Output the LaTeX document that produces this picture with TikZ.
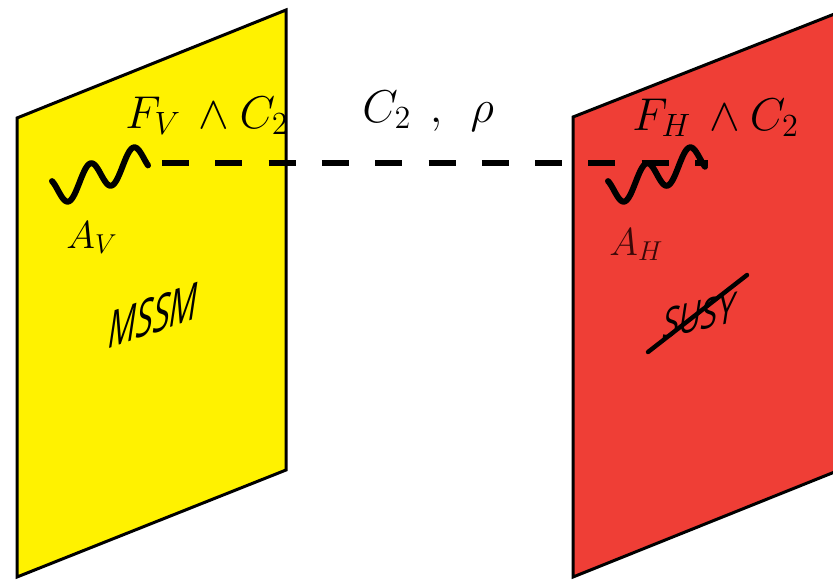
\RequirePackage{fix-cm}
\documentclass[tikz,border=0pt]{standalone}
\usepackage{fontspec}
\newfontfamily\labelsans{Open Sans}
\definecolor{braneY}{RGB}{255,242,0}
\definecolor{braneR}{RGB}{239,62,54}
\definecolor{darkA}{RGB}{60,8,8}
\tikzset{
  brane/.style={draw=black, line width=1.5pt, line join=miter},
  wiggle/.style={draw=black, line width=3pt, line cap=round},
  dashline/.style={draw=black, line width=3pt, dash pattern=on 13.5pt off 13.15pt},
  biglabel/.style={inner sep=0pt, font=\fontsize{23}{27}\selectfont},
  smalllabel/.style={inner sep=0pt, font=\fontsize{19.5}{23}\selectfont},
  branetext/.style={inner sep=0pt, anchor=base, transform shape},
  strike/.style={draw=black, line width=2.2pt, line cap=round}
}
\begin{document}
\begin{tikzpicture}[x=0.5pt,y=-0.5pt]
\useasboundingbox (0,0) rectangle (833,579);
\clip (0,0) rectangle (833,579);
% branes
\draw[brane, fill=braneY] (17,118) -- (286,10) -- (286,470) -- (17,577) -- cycle;
\draw[brane, fill=braneR] (573,117) -- (842,11) -- (842,469) -- (573,577) -- cycle;
% dashed line
\coordinate (dV) at (162,163);
\coordinate (dH) at (708,163);
\draw[dashline] (dV) -- (dH);
% wiggles
\draw[wiggle] plot[domain=52:148, samples=120, smooth] (\x,{183-0.37*(\x-78)+15*sin(8.372*(\x-58))});
\draw[wiggle] plot[domain=608:705, samples=120, smooth] (\x,{183-0.37*(\x-634)+15*sin(8.372*(\x-614))});
% labels
\node[biglabel, anchor=base west] (fv) at (125,128) {$F_V\,\wedge C_2$};
\node[biglabel, anchor=base west] (c2) at (362,122) {$C_2\hspace{0.4em},\hspace{0.45em}\rho$};
\node[biglabel, anchor=base west] (fh) at (632,130) {$F_H\,\wedge C_2$};
\node[smalllabel, anchor=base west] (av) at (66,248) {$A_V$};
\node[smalllabel, anchor=base west, text=darkA] (ah) at (609,255) {$A_H$};
% brane texts
\node[branetext, cm={0.58,0.2,0.15,1,(0,0)}, font=\labelsans\fontsize{26.5}{30}\selectfont] (mssm) at (151,334) {MSSM};
\node[branetext, cm={0.7,0.168,0.15,1,(0,0)}, font=\labelsans\fontsize{21.5}{25}\selectfont] (susy) at (697,331) {SUSY};
\coordinate (s1) at (648,352);
\coordinate (s2) at (747,275);
\draw[strike] (s1) -- (s2);
\end{tikzpicture}
\end{document}
